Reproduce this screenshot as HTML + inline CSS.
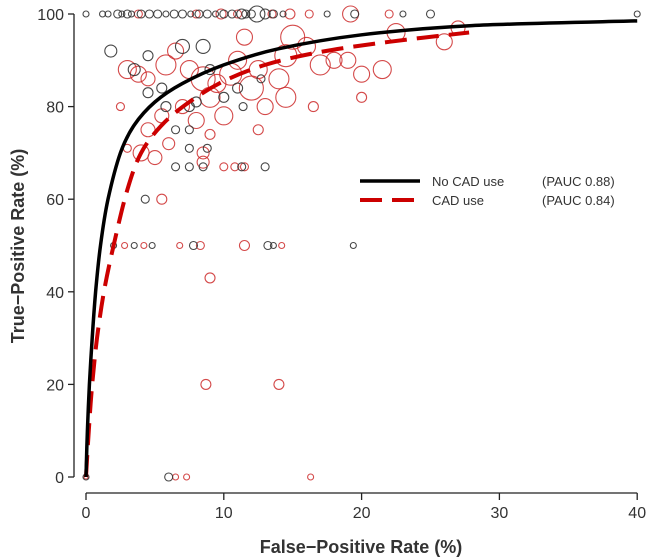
<!DOCTYPE html>
<html><head><meta charset="utf-8"><style>
body{margin:0;background:#fff;font-family:"Liberation Sans",Arial,sans-serif}
svg{display:block}
</style></head><body>
<svg id="chart" width="656" height="559"></svg>
<script>
const xTicks=[0,10,20,30,40];
const yTicks=[0,20,40,60,80,100];
const blackCurveX=[0,0.1,0.25,0.45,0.7,1.05,1.6,2.5,3.5,5,7,10,14,20,28,40];
const blackCurveY=[0,10,20,30,40,50,60,70,76,81,85,89,92.5,95.5,97.5,98.5];
const redCurveX=[0,0.2,0.45,0.8,1.3,2,3,4,5.5,7.5,10,13,17,22,27.8];
const redCurveY=[0,10,20,30,40,50,62,70,76,81,85.5,89,91.8,94,96];
const blackX=[0,1.2,1.6,2.3,2.6,3,3.3,4,4.6,5.2,5.8,6.4,7,7.6,8.2,8.8,9.4,10,10.6,11.3,11.6,12,12.4,13,13.6,14.3,17.5,19.5,23,25,40,1.8,3.5,4.5,7,8.5,9,5.5,4.5,5.8,7.5,8,10,11,11.4,12.7,6.5,7.5,7.5,8.8,6.5,7.5,8.5,11.3,13,4.3,2,3.5,4.8,7.8,13.2,13.6,19.4,6,0];
const blackY=[100,100,100,100,100,100,100,100,100,100,100,100,100,100,100,100,100,100,100,100,100,100,100,100,100,100,100,100,100,100,100,92,88,91,93,93,88,84,83,80,80,81,82,84,80,86,75,75,71,71,67,67,67,67,67,60,50,50,50,50,50,50,50,0,0];
const blackR=[3,3,3,4,3,4,3,4,4,4,3,4,4,3,4,4,3,4,4,5,4,4,8,5,4,3,3,4,3,4,3,6,6,5,7,7,5,5,5,5,5,5,5,5,4,4,4,4,4,4,4,4,4,4,4,4,3,3,3,4,4,3,3,4,3];
const redX=[3.8,8,9.8,11,13.5,14.8,16.2,19.2,22,3,3.8,4.5,5.8,6.5,7.5,8.5,9,9.5,10.5,11,11.5,12,12.5,13,14,14.5,15,16,17,18,19,20,21.5,22.5,26,27,10,8,7,5.5,4.5,4,5,6,8.5,9,12.5,14.5,16.5,20,2.5,3,10,10.8,11.5,8.5,5.5,2.8,4.2,6.8,8.3,11.5,14.2,9,8.7,14,6.5,7.3,16.3,0];
const redY=[100,100,100,100,100,100,100,100,100,88,87,86,89,92,88,86,82,85,87,90,95,84,88,80,86,91,95,93,89,90,90,87,88,96,94,97,78,77,80,78,75,70,69,72,70,74,75,82,80,82,80,71,67,67,67,68,60,50,50,50,50,50,50,43,20,20,0,0,0,0];
const redR=[4,4,5,4,4,5,4,8,4,9,8,7,10,8,9,12,10,9,11,9,8,12,9,8,10,11,12,9,10,8,8,8,9,9,8,7,9,8,7,7,7,8,7,6,6,5,5,10,5,5,4,4,4,4,4,6,5,3,3,3,4,5,3,5,5,5,3,3,3,2];

const svg=document.getElementById('chart');
const NS='http://www.w3.org/2000/svg';
const X=v=>86+v*13.78, Y=v=>477-v*4.63;
function mk(tag,attrs,parent){const e=document.createElementNS(NS,tag);for(const k in attrs)e.setAttribute(k,attrs[k]);(parent||svg).appendChild(e);return e;}

let ax=mk('line',{x1:X(0),x2:X(40),y1:493,y2:493,stroke:'#222','stroke-width':1.3});


let ay=mk('line',{x1:74,x2:74,y1:Y(0),y2:Y(100),stroke:'#222','stroke-width':1.3});


xTicks.forEach(t=>{
  mk('line',{x1:X(t),x2:X(t),y1:493,y2:500,stroke:'#222','stroke-width':1.3});
  const tx=mk('text',{x:X(t),y:518,'text-anchor':'middle','font-size':16,fill:'#333'});
  tx.textContent=t;
  
  
});
yTicks.forEach(t=>{
  mk('line',{x1:68,x2:74,y1:Y(t),y2:Y(t),stroke:'#222','stroke-width':1.3});
  const tx=mk('text',{x:64,y:Y(t)+6,'text-anchor':'end','font-size':16,fill:'#333'});
  tx.textContent=t;
  
  
});
const xt=mk('text',{x:361,y:553,'text-anchor':'middle','font-size':18,'font-weight':'bold',fill:'#333'});
xt.textContent='False\u2212Positive Rate (%)';


const yt=mk('text',{x:0,y:0,'text-anchor':'middle','font-size':18,'font-weight':'bold',fill:'#333',transform:'translate(24,246) rotate(-90)'});
yt.textContent='True\u2212Positive Rate (%)';



for(let i=0;i<redX.length;i++){
  const c=mk('circle',{cx:X(redX[i]),cy:Y(redY[i]),r:redR[i],fill:'none',stroke:'#cc2a2a','stroke-width':1.1,opacity:0.85});
  
  
}
for(let i=0;i<blackX.length;i++){
  const c=mk('circle',{cx:X(blackX[i]),cy:Y(blackY[i]),r:blackR[i],fill:'none',stroke:'#333','stroke-width':1.1,opacity:0.9});
  
  
}
function path(xs,ys){
  const p=xs.map((v,i)=>[X(v),Y(ys[i])]);
  let d='M'+p[0][0].toFixed(1)+','+p[0][1].toFixed(1);
  for(let i=0;i<p.length-1;i++){
    const p0=p[i-1]||p[i],p1=p[i],p2=p[i+1],p3=p[i+2]||p2;
    const c1=[p1[0]+(p2[0]-p0[0])/6,p1[1]+(p2[1]-p0[1])/6];
    const c2=[p2[0]-(p3[0]-p1[0])/6,p2[1]-(p3[1]-p1[1])/6];
    d+='C'+c1.map(n=>n.toFixed(1)).join(',')+' '+c2.map(n=>n.toFixed(1)).join(',')+' '+p2.map(n=>n.toFixed(1)).join(',');
  }
  return d;
}
const rc=mk('path',{d:path(redCurveX,redCurveY),fill:'none',stroke:'#cc0000','stroke-width':4,'stroke-dasharray':'22,10'});


const bc=mk('path',{d:path(blackCurveX,blackCurveY),fill:'none',stroke:'#000','stroke-width':3.5});



const lg=mk('g',{});


mk('line',{x1:360,x2:420,y1:181,y2:181,stroke:'#000','stroke-width':3.5},lg);
mk('line',{x1:360,x2:420,y1:200,y2:200,stroke:'#cc0000','stroke-width':4,'stroke-dasharray':'22,10'},lg);
[['No CAD use',432,186],['(PAUC 0.88)',542,186],['CAD use',432,205],['(PAUC 0.84)',542,205]].forEach(a=>{
  const t=mk('text',{x:a[1],y:a[2],'font-size':13,fill:'#333'},lg);t.textContent=a[0];
  
  
});
</script>
</body></html>
